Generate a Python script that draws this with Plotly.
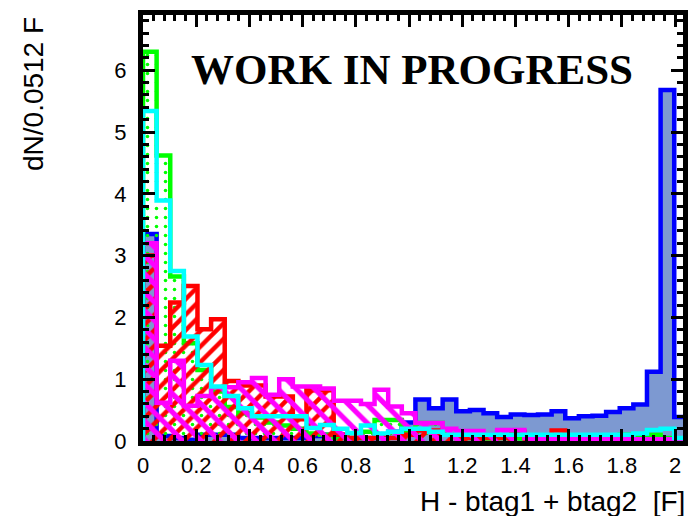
import numpy as np
import plotly.graph_objects as go

# 40 bins of width 0.0512 spanning 0 .. 2.048
bin_width = 0.0512
n_bins = 40
edges = [round(bin_width * k, 4) for k in range(n_bins + 1)]

blue_vals = [3.35, 0.08, 0.05, 0.02, 0.10, 0.10, 0.10, 0.05, 0.05, 0.05,
             0.05, 0.05, 0.08, 0.10, 0.10, 0.05, 0.05, 0.10, 0.15, 0.30,
             0.67, 0.53, 0.67, 0.48, 0.50, 0.45, 0.39, 0.43, 0.42, 0.43,
             0.48, 0.37, 0.40, 0.41, 0.47, 0.53, 0.59, 1.12, 5.68, 0.39]

green_vals = [6.30, 4.62, 2.66, 1.58, 1.15, 0.80, 0.55, 0.45, 0.38, 0.30,
              0.25, 0.20, 0.12, 0.10, 0.05, 0.05, 0.15, 0.34, 0.34, 0.15,
              0.29, 0.29, 0.10, 0.05, 0.05, 0.04, 0.05, 0.04, 0.05, 0.04,
              0.05, 0.04, 0.05, 0.05, 0.08, 0.10, 0.10, 0.10, 0.05, 0.02]

red_vals = [3.00, 1.54, 2.24, 2.51, 1.81, 1.97, 0.97, 0.90, 0.90, 0.72,
            0.72, 0.35, 0.82, 0.82, 0.10, 0.05, 0.05, 0.10, 0.05, 0.10,
            0.17, 0.17, 0.10, 0.05, 0.05, 0.05, 0.05, 0.15, 0.05, 0.05,
            0.17, 0.03, 0.03, 0.03, 0.03, 0.03, 0.03, 0.03, 0.03, 0.03]

magenta_vals = [3.20, 0.62, 1.30, 0.57, 0.73, 0.87, 0.87, 0.95, 1.02, 0.75,
                1.00, 0.88, 0.88, 0.85, 0.65, 0.65, 0.60, 0.83, 0.56, 0.45,
                0.29, 0.29, 0.20, 0.16, 0.16, 0.10, 0.18, 0.18, 0.05, 0.03,
                0.03, 0.03, 0.03, 0.03, 0.03, 0.03, 0.03, 0.03, 0.03, 0.03]

cyan_vals = [5.34, 3.89, 2.75, 1.69, 1.23, 0.88, 0.73, 0.53, 0.40, 0.40,
             0.40, 0.40, 0.21, 0.26, 0.20, 0.13, 0.25, 0.12, 0.15, 0.20,
             0.20, 0.15, 0.10, 0.10, 0.10, 0.10, 0.10, 0.10, 0.10, 0.10,
             0.10, 0.10, 0.10, 0.10, 0.10, 0.10, 0.12, 0.18, 0.20, 0.05]

x_tick_vals = [0, 0.2, 0.4, 0.6, 0.8, 1, 1.2, 1.4, 1.6, 1.8, 2]
x_tick_text = ["0", "0.2", "0.4", "0.6", "0.8", "1", "1.2", "1.4", "1.6", "1.8", "2"]
y_tick_vals = [0, 1, 2, 3, 4, 5, 6]


def step_outline(vals):
    """Closed step outline of a histogram: up from 0 at the first edge, down at the last."""
    xs = [edges[0]] + edges[:-1] + [edges[-1], edges[-1]]
    ys = [0.0] + list(vals) + [vals[-1], 0.0]
    return xs, ys


fig = go.Figure()

LW = 4.5


def add_hist(vals, color, fill=None, pattern=None):
    xs, ys = step_outline(vals)
    kw = dict(x=xs, y=ys, mode="lines", line=dict(color=color, width=LW, shape="hv"),
              showlegend=False, hoverinfo="skip")
    if fill is not None:
        kw.update(fill="tozeroy", fillcolor=fill)
    if pattern is not None:
        kw.update(fill="tozeroy", fillcolor="rgba(0,0,0,0)", fillpattern=pattern)
    fig.add_trace(go.Scatter(**kw))


add_hist(blue_vals, "#0000ff", fill="#7d99d1")
add_hist(green_vals, "#00ff00",
         pattern=dict(shape=".", fgcolor="#00ff00", bgcolor="rgba(0,0,0,0)",
                      size=9, solidity=0.12, fgopacity=1))
add_hist(red_vals, "#ff0000",
         pattern=dict(shape="/", fgcolor="#ff0000", bgcolor="rgba(0,0,0,0)",
                      size=11, solidity=0.4, fgopacity=1))
add_hist(magenta_vals, "#ff00ff",
         pattern=dict(shape="\\", fgcolor="#ff00ff", bgcolor="rgba(0,0,0,0)",
                      size=13, solidity=0.4, fgopacity=1))
add_hist(cyan_vals, "#00ffff")

L, R, T, B = 143, 0, 15, 75
W, H = 688, 516
plot_w = W - L - R
plot_h = H - T - B
x_scale = 268.5
y_scale = 61.8

tickfont = dict(family="Liberation Sans, Arial, sans-serif", size=22, color="black")

fig.update_layout(
    width=W, height=H,
    margin=dict(l=L, r=R, t=T, b=B, pad=0),
    paper_bgcolor="white", plot_bgcolor="white",
    xaxis=dict(
        range=[0, plot_w / x_scale],
        tickmode="array", tickvals=x_tick_vals, ticktext=x_tick_text,
        ticks="inside", ticklen=12, tickwidth=3, tickcolor="black",
        minor=dict(dtick=0.04, tick0=0, ticks="inside", ticklen=6, tickwidth=3, tickcolor="black"),
        showline=True, linewidth=5, linecolor="black", mirror="ticks",
        showgrid=False, zeroline=False,
        tickfont=tickfont, ticklabelstandoff=1,
    ),
    yaxis=dict(
        range=[0, plot_h / y_scale],
        tickmode="array", tickvals=y_tick_vals,
        ticks="inside", ticklen=12, tickwidth=3, tickcolor="black",
        minor=dict(dtick=0.2, tick0=0, ticks="inside", ticklen=6, tickwidth=3, tickcolor="black"),
        showline=True, linewidth=5, linecolor="black", mirror="ticks",
        showgrid=False, zeroline=False,
        tickfont=tickfont, ticklabelstandoff=7,
    ),
)

fig.add_annotation(
    text="<b>WORK IN PROGRESS</b>", xref="paper", yref="paper",
    x=(414 - L) / plot_w, y=(H - B - 69) / plot_h, xanchor="center", yanchor="middle",
    showarrow=False, font=dict(family="Liberation Serif, Times New Roman, serif", size=43, color="black"),
)
fig.add_annotation(
    text="dN/0.0512 F", xref="paper", yref="paper", textangle=-90,
    x=(32 - L) / plot_w, y=1.0, xanchor="center", yanchor="top",
    showarrow=False, font=dict(family="Liberation Sans, Arial, sans-serif", size=28, color="black"),
)
fig.add_annotation(
    text="H - btag1 + btag2  [F]", xref="paper", yref="paper",
    x=1.0, y=-(501 - (H - B)) / plot_h, xanchor="right", yanchor="middle", xshift=4,
    showarrow=False, font=dict(family="Liberation Sans, Arial, sans-serif", size=28, color="black"),
)

fig.write_html("out.html")
